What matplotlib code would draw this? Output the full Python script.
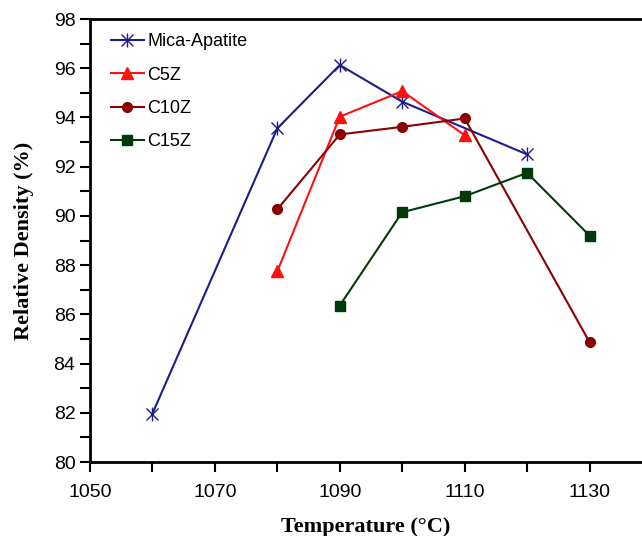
import matplotlib
matplotlib.use("Agg")
import matplotlib.pyplot as plt
from matplotlib.ticker import MultipleLocator, FixedLocator
from matplotlib.lines import Line2D

mica_x = [1060, 1080, 1090, 1100, 1120]
mica_y = [81.97, 93.56, 96.13, 94.64, 92.5]
c5z_x = [1080, 1090, 1100, 1110]
c5z_y = [87.75, 94.03, 95.07, 93.28]
c10z_x = [1080, 1090, 1100, 1110, 1130]
c10z_y = [90.27, 93.31, 93.62, 93.96, 84.87]
c15z_x = [1090, 1100, 1110, 1120, 1130]
c15z_y = [86.36, 90.15, 90.8, 91.75, 89.2]
x_major = [1050, 1070, 1090, 1110, 1130]

NAVY = "#1c1c8c"
fig = plt.figure(figsize=(6.42, 5.36), dpi=100)
ax = fig.add_axes([0.1402, 0.138, 0.8598, 0.8265])

ax.plot(mica_x, mica_y, color=NAVY, marker="x", markersize=8, mew=1.0, lw=1.5)
ax.plot(mica_x, mica_y, color=NAVY, marker="|", markersize=10, mew=1.0, lw=0)
ax.plot(c5z_x, c5z_y, color="#ff1010", marker="^", markersize=8, lw=1.5, label="C5Z")
ax.plot(c10z_x, c10z_y, color="#8b0000", marker="o", markersize=7, lw=1.5, label="C10Z")
ax.plot(c15z_x, c15z_y, color="#003a0a", marker="s", markersize=7.5, lw=1.5, label="C15Z")

ax.set_xlim(1050, 1138.4)
ax.set_ylim(80, 98)
ax.xaxis.set_major_locator(FixedLocator(x_major))
ax.xaxis.set_minor_locator(MultipleLocator(10))
ax.yaxis.set_major_locator(MultipleLocator(2))
ax.yaxis.set_minor_locator(MultipleLocator(1))
ax.tick_params(which="both", direction="out", width=1.5, labelsize=14, length=7)
ax.tick_params(axis="x", which="major", pad=9)
for lab in ax.get_xticklabels() + ax.get_yticklabels():
    lab.set_family("Liberation Sans")
ax.spines["right"].set_visible(False)
for s in ["left", "bottom", "top"]:
    ax.spines[s].set_linewidth(2)

ax.set_xlabel("Temperature (°C)", fontsize=16, fontweight="bold", family="Liberation Serif", labelpad=11)
ax.set_ylabel("Relative Density (%)", fontsize=16, fontweight="bold", family="Liberation Serif", labelpad=14)

mica_handle = (Line2D([], [], color=NAVY, lw=1.5, marker="x", markersize=8),
               Line2D([], [], color=NAVY, lw=0, marker="|", markersize=10))
h, l = ax.get_legend_handles_labels()
h = [mica_handle] + h
l = ["Mica-Apatite"] + l
ax.legend(h, l, loc="upper left", frameon=False, prop={"family": "Liberation Sans", "size": 13},
          handlelength=1.8, handletextpad=0.2, labelspacing=0.9, bbox_to_anchor=(0.012, 1.0),
          borderaxespad=0.4)

fig.savefig("out.png", dpi=100)
